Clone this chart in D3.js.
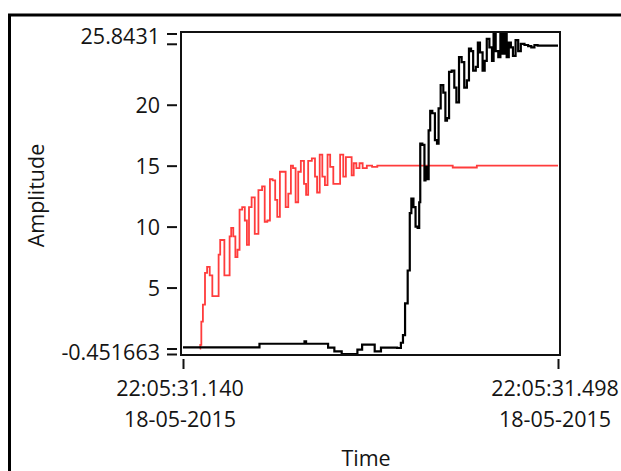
<!DOCTYPE html>
<html>
<head>
<meta charset="utf-8">
<script src="https://cdn.jsdelivr.net/npm/d3@7"></script>
<style>
  html, body { margin: 0; padding: 0; background: #ffffff; }
  svg { display: block; }
  text { font-family: "Open Sans", "Noto Sans", sans-serif; fill: #141414; }
</style>
</head>
<body>
<svg id="chart" width="621" height="471"></svg>
<script>
// ---- data ----
const startTime = new Date(2015, 4, 18, 22, 5, 31, 140);
const endTime = new Date(2015, 4, 18, 22, 5, 31, 498);
const yMin = -0.451663;
const yMax = 25.8431;

// red series: time offset (ms) and amplitude
const redMs = [16, 17.8, 18.4, 20.4, 22, 24.2, 27.4, 29.9, 33.7, 35.3, 36.9, 39.4, 40.4, 44.2, 45.8, 47.4, 49.6, 51.8, 53.8, 55.4, 58.2, 60.1, 62.4, 64.2, 67.1, 70.9, 74.2, 77.3, 79.9, 82.4, 84.7, 87.8, 89.4, 91.6, 94.2, 97.4, 99.9, 102.1, 104.1, 106.9, 109.5, 111.7, 114.2, 117.1, 118.7, 121.2, 125.1, 127.6, 129.5, 132.4, 134.6, 137.2, 139.7, 142.5, 145.1, 148.3, 152.5, 154.7, 157.8, 160.1, 162, 164.2, 167.4, 170.6, 173.7, 178.5, 183.3, 188, 257, 258, 280, 281, 358];
const redAmp = [0, 0.3, 2.2, 3.6, 6.2, 6.7, 6.0, 4.3, 4.3, 7.7, 8.9, 8.9, 6.0, 6.0, 9.2, 9.9, 9.2, 7.5, 8.1, 11.4, 11.6, 10.5, 8.5, 11.6, 12.4, 9.4, 13.0, 13.3, 10.4, 10.5, 13.9, 13.8, 12.2, 10.8, 14.5, 14.5, 11.6, 12.7, 15.0, 14.8, 12.0, 14.5, 15.4, 13.5, 12.6, 15.4, 15.6, 14.1, 12.8, 15.9, 14.1, 13.4, 15.9, 14.9, 13.5, 13.5, 15.9, 14.1, 15.7, 15.7, 14.2, 15.2, 14.8, 15.2, 14.8, 15.0, 14.9, 15.0, 15.0, 14.85, 14.85, 15.0, 15.0];

// black series: time offset (ms) and amplitude
const blackMs = [0, 73.5, 73.6, 116, 116.5, 117.5, 118, 137.2, 140.3, 149.9, 154.7, 164.2, 169, 173.7, 180.4, 186.2, 192.8, 202.4, 207.2, 209.1, 211, 213.6, 216, 217.4, 219.9, 221.5, 223.1, 225.6, 226.9, 227.9, 230.1, 231, 232.7, 234.2, 235.8, 237.4, 239.6, 242.2, 243.7, 245.3, 247.9, 250.1, 251.7, 253.3, 255.6, 258, 260.6, 262.8, 265.1, 267.6, 270.2, 272.4, 274, 276.6, 278.8, 281, 282.9, 285.2, 287.4, 289.9, 291.5, 294, 296.2, 297.9, 300, 302, 304.2, 306.4, 308.4, 310.5, 312.8, 314.7, 316.9, 319.1, 321.7, 324.3, 328.1, 331.3, 334.4, 337.7, 340.8, 358];
const blackAmp = [0.09, 0.09, 0.39, 0.39, 0.58, 0.58, 0.39, 0.39, 0.07, -0.24, -0.45, -0.45, -0.1, 0.31, 0.31, -0.24, 0.07, 0.07, 0.04, 0.47, 1.1, 3.7, 6.4, 11.1, 12.3, 11.6, 10.0, 9.9, 12.0, 16.8, 16.7, 13.8, 14.9, 13.9, 17.9, 19.5, 19.3, 17.1, 16.8, 19.7, 21.6, 21.0, 18.7, 18.9, 22.7, 22.8, 21.4, 20.2, 23.9, 23.5, 21.4, 22.0, 24.6, 24.4, 22.8, 23.1, 25.1, 24.3, 22.8, 23.6, 25.4, 24.7, 23.6, 26.2, 24.4, 23.9, 26.2, 24.2, 26.2, 23.9, 25.1, 24.7, 24.0, 25.3, 24.4, 25.0, 24.9, 24.8, 24.7, 24.9, 24.85, 24.85];

const yTickValues = [yMin, 0, 5, 10, 15, 20, 25, yMax];
const yTickLabels = ["-0.451663", "", "5", "10", "15", "20", "", "25.8431"];
const xTickValues = [startTime, endTime];

const yTitle = "Amplitude";
const xTitle = "Time";

// ---- layout ----
const FONT = "Open Sans, Noto Sans, sans-serif";
const FS = 21.5;
const svg = d3.select("#chart");
const plot = { left: 181, right: 560, top: 32, bottom: 355 };

const x = d3.scaleTime().domain([startTime, endTime]).range([183, 558]);
const y = d3.scaleLinear().domain([yMin, yMax]).range([354, 33.5]);

const toDate = ms => new Date(startTime.getTime() + ms);

// outer frame
svg.append("path")
  .attr("d", "M9.5,480 L9.5,15 L630,15")
  .attr("fill", "none").attr("stroke", "#000").attr("stroke-width", 3);

// clip
svg.append("clipPath").attr("id", "clip")
  .append("rect")
  .attr("x", plot.left).attr("y", plot.top)
  .attr("width", plot.right - plot.left).attr("height", plot.bottom - plot.top);

// plot background
svg.append("rect")
  .attr("x", plot.left).attr("y", plot.top)
  .attr("width", plot.right - plot.left).attr("height", plot.bottom - plot.top)
  .attr("fill", "#fff");

const line = d3.line().curve(d3.curveStep).x(d => x(d[0])).y(d => y(d[1]));

const redData = redMs.map((m, i) => [toDate(m), redAmp[i]]);
const blackData = blackMs.map((m, i) => [toDate(m), blackAmp[i]]);

const g = svg.append("g").attr("clip-path", "url(#clip)");
g.append("path").datum(redData).attr("d", line)
  .attr("fill", "none").attr("stroke", "#ff3c3c").attr("stroke-width", 1.8)
  .attr("stroke-linejoin", "miter");
g.append("path").datum(blackData).attr("d", line)
  .attr("fill", "none").attr("stroke", "#000").attr("stroke-width", 2.2)
  .attr("stroke-linejoin", "miter");

// plot border
svg.append("rect")
  .attr("x", plot.left).attr("y", plot.top)
  .attr("width", plot.right - plot.left).attr("height", plot.bottom - plot.top)
  .attr("fill", "none").attr("stroke", "#111").attr("stroke-width", 2);

// y axis
const yAxis = d3.axisLeft(y)
  .tickValues(yTickValues)
  .tickSize(10)
  .tickPadding(7)
  .tickFormat((d, i) => yTickLabels[i]);
const yg = svg.append("g").attr("transform", "translate(177,0)").call(yAxis);
yg.select(".domain").remove();
yg.selectAll(".tick line").attr("stroke", "#111").attr("stroke-width", 2);
yg.selectAll(".tick text")
  .attr("font-family", FONT)
  .attr("font-size", FS).attr("fill", "#141414")
  .attr("dy", "0.36em")
  .attr("transform", (d, i) => i === 0 ? "translate(0,-2)" : (i === yTickValues.length - 1 ? "translate(0,2)" : null));

// x axis
const xAxis = d3.axisBottom(x).tickValues(xTickValues).tickSize(10).tickFormat("");
const xg = svg.append("g").attr("transform", "translate(0,359)").call(xAxis);
xg.select(".domain").remove();
xg.selectAll(".tick line").attr("stroke", "#111").attr("stroke-width", 2);
const fmtTime = d3.timeFormat("%H:%M:%S.%L");
const fmtDate = d3.timeFormat("%d-%m-%Y");
xg.selectAll(".tick").each(function(d) {
  const t = d3.select(this).append("text")
    .attr("font-family", FONT)
    .attr("font-size", FS).attr("fill", "#141414")
    .attr("text-anchor", "middle");
  t.append("tspan").attr("x", -3.5).attr("y", 37).text(fmtTime(d));
  t.append("tspan").attr("x", -3.5).attr("y", 68).text(fmtDate(d));
});

// titles
svg.append("text")
  .attr("transform", `translate(44,${(plot.top + plot.bottom) / 2 + 2}) rotate(-90)`)
  .attr("text-anchor", "middle")
  .attr("font-family", FONT)
  .attr("font-size", FS)
  .text(yTitle);

svg.append("text")
  .attr("x", 366).attr("y", 466)
  .attr("text-anchor", "middle")
  .attr("font-family", FONT)
  .attr("font-size", FS)
  .text(xTitle);
</script>
</body>
</html>
